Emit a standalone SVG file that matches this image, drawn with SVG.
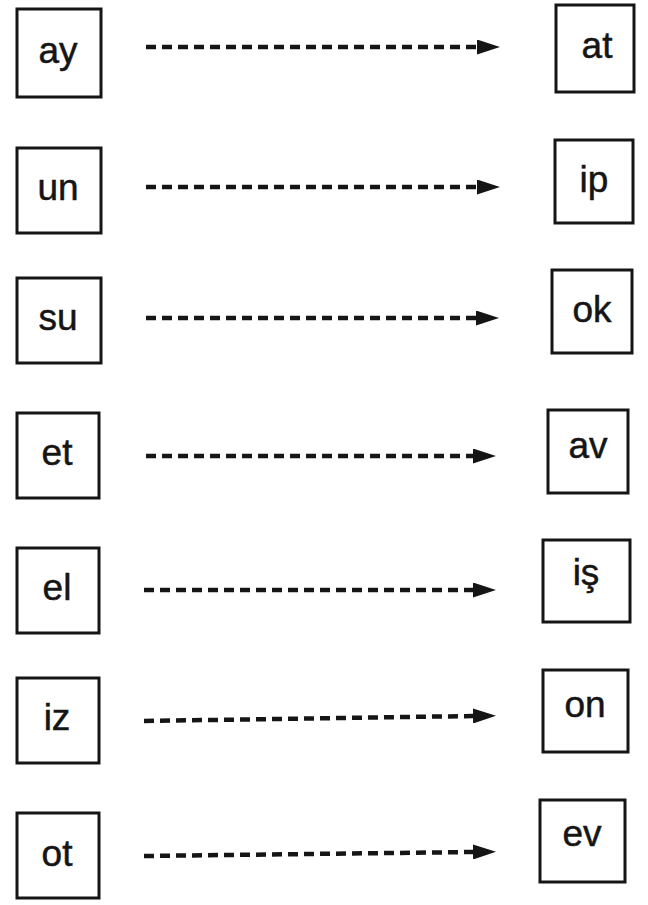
<svg xmlns="http://www.w3.org/2000/svg" width="648" height="905" viewBox="0 0 648 905">
<style>
.box{fill:none;stroke:#151515;stroke-width:3}
.lbl{font-family:"Liberation Sans",Arial,sans-serif;font-size:37px;fill:#151515;stroke:#151515;stroke-width:0.5;text-anchor:middle}
.con{stroke:#151515;stroke-width:4.5;stroke-dasharray:10 6;fill:none}
</style>
<defs>
<marker id="ah" markerWidth="23" markerHeight="15" refX="0" refY="7.5" orient="auto" markerUnits="userSpaceOnUse">
<path d="M0,0 L23,7.5 L0,15 Z" fill="#151515"/>
</marker>
</defs>
<rect width="648" height="905" fill="#fff"/>
<g id="n-ay"><rect class="box" x="17" y="9" width="84" height="88"/><text class="lbl" x="58" y="63">ay</text></g>
<g id="n-at"><rect class="box" x="556" y="5" width="78" height="87"/><text class="lbl" x="597" y="58">at</text></g>
<g id="n-un"><rect class="box" x="17" y="148" width="84" height="85"/><text class="lbl" x="58" y="200">un</text></g>
<g id="n-ip"><rect class="box" x="555" y="140" width="78" height="83"/><text class="lbl" x="594" y="192">ip</text></g>
<g id="n-su"><rect class="box" x="17" y="278" width="84" height="85"/><text class="lbl" x="58" y="330">su</text></g>
<g id="n-ok"><rect class="box" x="552" y="270" width="80" height="83"/><text class="lbl" x="592" y="322">ok</text></g>
<g id="n-et"><rect class="box" x="17" y="413" width="82" height="85"/><text class="lbl" x="57" y="465">et</text></g>
<g id="n-av"><rect class="box" x="548" y="410" width="80" height="83"/><text class="lbl" x="588" y="458">av</text></g>
<g id="n-el"><rect class="box" x="17" y="548" width="82" height="85"/><text class="lbl" x="57" y="600">el</text></g>
<g id="n-is"><rect class="box" x="543" y="540" width="87" height="82"/><text class="lbl" x="586" y="585">iş</text></g>
<g id="n-iz"><rect class="box" x="17" y="678" width="82" height="85"/><text class="lbl" x="57" y="730">iz</text></g>
<g id="n-on"><rect class="box" x="543" y="670" width="85" height="82"/><text class="lbl" x="585" y="717">on</text></g>
<g id="n-ot"><rect class="box" x="17" y="813" width="82" height="85"/><text class="lbl" x="57" y="866">ot</text></g>
<g id="n-ev"><rect class="box" x="540" y="800" width="85" height="82"/><text class="lbl" x="582" y="846">ev</text></g>
<g id="connectors">
<path class="con" d="M146,47 L477,47" marker-end="url(#ah)"/>
<path class="con" d="M146,187 L477,187" marker-end="url(#ah)"/>
<path class="con" d="M146,318 L476,318" marker-end="url(#ah)"/>
<path class="con" d="M146,456 L473,456" marker-end="url(#ah)"/>
<path class="con" d="M144,590 L473,590" marker-end="url(#ah)"/>
<path class="con" d="M144,721 L473,716" marker-end="url(#ah)"/>
<path class="con" d="M144,856 L473,852" marker-end="url(#ah)"/>
</g>
</svg>
